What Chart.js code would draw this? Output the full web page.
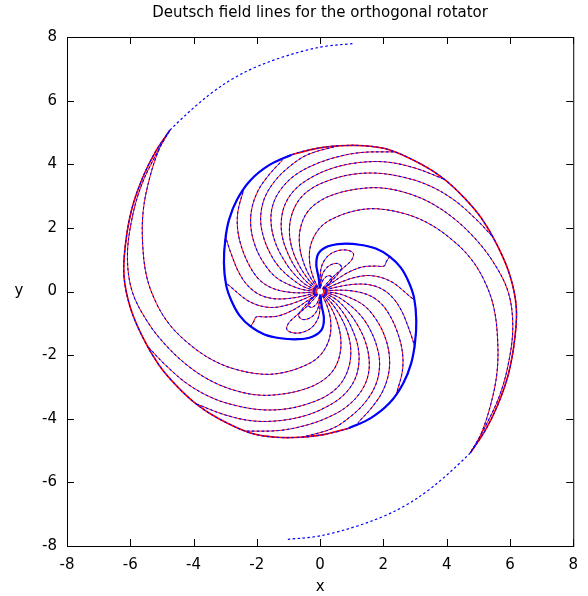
<!DOCTYPE html>
<html>
<head>
<meta charset="utf-8">
<script src="https://cdn.jsdelivr.net/npm/chart.js@4.4.1/dist/chart.umd.min.js"></script>
<style>
  html, body { margin: 0; padding: 0; background: #fff; }
  #wrap { width: 588px; height: 596px; }
</style>
</head>
<body>
<div id="wrap"><canvas id="fieldChart" width="588" height="596"></canvas></div>
<script>
// ========== DATA (data units) ==========
const xTicks = [-8, -6, -4, -2, 0, 2, 4, 6, 8];
const yTicks = [-8, -6, -4, -2, 0, 2, 4, 6, 8];

// separatrix arm A: centre -> over the top -> right side -> bottom -> left -> tip
const armA = [[0,0],[-0.05,0.45],[-0.12,0.85],[-0.05,1.2],[0.25,1.42],[0.7,1.5],[1.25,1.47],[1.76,1.35],[2.2,1.1],[2.55,0.75],[2.8,0.3],[2.97,-0.2],[3.04,-0.9],[3.0,-1.6],[2.88,-2.25],[2.62,-2.9],[2.2,-3.5],[1.6,-3.98],[0.9,-4.3],[0.1,-4.5],[-0.6,-4.58],[-1.4,-4.58],[-2.2,-4.45],[-3.2,-4.0],[-3.9,-3.55],[-4.55,-2.95],[-5.1,-2.3],[-5.6,-1.45],[-6.0,-0.5],[-6.2,0.5],[-6.15,1.5],[-5.95,2.6],[-5.6,3.6],[-5.2,4.4],[-4.75,5.07]];
const armB = [[0,0],[0.05,-0.45],[0.12,-0.85],[0.05,-1.2],[-0.25,-1.42],[-0.7,-1.5],[-1.25,-1.47],[-1.76,-1.35],[-2.2,-1.1],[-2.55,-0.75],[-2.8,-0.3],[-2.97,0.2],[-3.04,0.9],[-3.0,1.6],[-2.88,2.25],[-2.62,2.9],[-2.2,3.5],[-1.6,3.98],[-0.9,4.3],[-0.1,4.5],[0.6,4.58],[1.4,4.58],[2.2,4.45],[3.2,4.0],[3.9,3.55],[4.55,2.95],[5.1,2.3],[5.6,1.45],[6.0,0.5],[6.2,-0.5],[6.15,-1.5],[5.95,-2.6],[5.6,-3.6],[5.2,-4.4],[4.75,-5.07]];
// blue continuation beyond the tips
const tailA = [[-4.75,5.07],[-4.43,5.38],[-3.91,5.85],[-3.39,6.27],[-2.76,6.69],[-2.02,7.06],[-1.18,7.37],[-0.45,7.58],[0.18,7.71],[1.02,7.79]];
const tailB = [[4.75,-5.07],[4.43,-5.38],[3.91,-5.85],[3.39,-6.27],[2.76,-6.69],[2.02,-7.06],[1.18,-7.37],[0.45,-7.58],[-0.18,-7.71],[-1.02,-7.79]];

// open lines leaving the centre to the right, wrapping under and joining arm A
const fanLower = [
  [[0,0],[0.4,0.29],[0.85,0.58],[1.33,0.77],[1.75,0.8],[2.02,0.8],[2.1,0.95],[2.2,1.1]],
  [[0,0],[0.45,0.21],[0.95,0.4],[1.45,0.5],[1.9,0.45],[2.3,0.28],[2.6,0.05],[2.82,-0.14],[2.97,-0.26]],
  [[0,0],[0.48,0.13],[1.0,0.22],[1.5,0.22],[1.95,0.08],[2.3,-0.2],[2.57,-0.6],[2.78,-1.1],[2.92,-1.5],[3.0,-1.78]],
  [[0,0],[0.5,0.04],[1.0,0.02],[1.5,-0.1],[1.9,-0.35],[2.2,-0.75],[2.45,-1.3],[2.6,-1.9],[2.6,-2.5],[2.42,-3.19]],
  [[0,0],[0.5,-0.05],[0.95,-0.2],[1.4,-0.45],[1.75,-0.85],[2.02,-1.35],[2.18,-1.95],[2.17,-2.55],[1.97,-3.15],[1.63,-3.65],[1.2,-4.12]],
  [[0,0],[0.48,-0.13],[0.9,-0.4],[1.28,-0.75],[1.58,-1.2],[1.8,-1.75],[1.88,-2.3],[1.77,-2.9],[1.45,-3.45],[1.0,-3.9],[0.4,-4.3],[-0.56,-4.58]],
  [[0,0],[0.45,-0.21],[0.82,-0.55],[1.15,-1.0],[1.42,-1.55],[1.55,-2.15],[1.5,-2.7],[1.25,-3.2],[0.8,-3.65],[0.2,-3.98],[-0.5,-4.22],[-1.3,-4.37],[-2.33,-4.39]],
  [[0,0],[0.41,-0.29],[0.75,-0.7],[1.02,-1.2],[1.2,-1.75],[1.22,-2.3],[1.08,-2.8],[0.75,-3.25],[0.25,-3.6],[-0.4,-3.88],[-1.2,-4.05],[-2.1,-4.07],[-3.0,-3.88],[-3.92,-3.53]],
  [[0,0],[0.35,-0.35],[0.65,-0.8],[0.87,-1.3],[0.97,-1.85],[0.9,-2.4],[0.65,-2.9],[0.25,-3.25],[-0.3,-3.5],[-1.0,-3.68],[-1.8,-3.72],[-2.6,-3.6],[-3.4,-3.35],[-4.2,-2.9],[-4.9,-2.3],[-5.42,-1.76]],
  [[0,0],[0.29,-0.41],[0.52,-0.9],[0.65,-1.45],[0.62,-2.0],[0.4,-2.5],[0,-2.85],[-0.53,-3.08],[-1.17,-3.22],[-1.88,-3.26],[-2.62,-3.13],[-3.39,-2.84],[-4.12,-2.38],[-4.82,-1.75],[-5.45,-0.96],[-5.94,0],[-6.09,1.07],[-5.97,2.17],[-5.67,3.28],[-5.17,4.34],[-4.75,5.07]],
  [[0,0],[0.2,-0.4],[0.33,-0.9],[0.3,-1.45],[0.05,-1.95],[-0.34,-2.26],[-1.08,-2.53],[-1.81,-2.6],[-2.76,-2.42],[-3.5,-2.1],[-4.2,-1.6],[-4.75,-1.05],[-5.17,-0.38],[-5.48,0.46],[-5.61,1.51],[-5.59,2.55],[-5.38,3.6],[-5.06,4.54],[-4.75,5.07]]
];
// open lines leaving the centre to the left, wrapping over the top and joining arm B
const fanUpper = [
  [[0,0],[-0.4,-0.29],[-0.85,-0.58],[-1.33,-0.77],[-1.75,-0.8],[-2.02,-0.8],[-2.1,-0.95],[-2.2,-1.1]],
  [[0,0],[-0.45,-0.21],[-0.95,-0.4],[-1.45,-0.5],[-1.9,-0.45],[-2.3,-0.28],[-2.6,-0.05],[-2.82,0.14],[-2.97,0.26]],
  [[0,0],[-0.48,-0.13],[-1.0,-0.22],[-1.5,-0.22],[-1.95,-0.08],[-2.3,0.2],[-2.57,0.6],[-2.78,1.1],[-2.92,1.5],[-3.0,1.78]],
  [[0,0],[-0.5,-0.04],[-1.0,-0.02],[-1.5,0.1],[-1.9,0.35],[-2.2,0.75],[-2.45,1.3],[-2.6,1.9],[-2.6,2.5],[-2.42,3.19]],
  [[0,0],[-0.5,0.05],[-0.95,0.2],[-1.4,0.45],[-1.75,0.85],[-2.02,1.35],[-2.18,1.95],[-2.17,2.55],[-1.97,3.15],[-1.63,3.65],[-1.2,4.12]],
  [[0,0],[-0.48,0.13],[-0.9,0.4],[-1.28,0.75],[-1.58,1.2],[-1.8,1.75],[-1.88,2.3],[-1.77,2.9],[-1.45,3.45],[-1.0,3.9],[-0.4,4.3],[0.56,4.58]],
  [[0,0],[-0.45,0.21],[-0.82,0.55],[-1.15,1.0],[-1.42,1.55],[-1.55,2.15],[-1.5,2.7],[-1.25,3.2],[-0.8,3.65],[-0.2,3.98],[0.5,4.22],[1.3,4.37],[2.33,4.39]],
  [[0,0],[-0.41,0.29],[-0.75,0.7],[-1.02,1.2],[-1.2,1.75],[-1.22,2.3],[-1.08,2.8],[-0.75,3.25],[-0.25,3.6],[0.4,3.88],[1.2,4.05],[2.1,4.07],[3.0,3.88],[3.92,3.53]],
  [[0,0],[-0.35,0.35],[-0.65,0.8],[-0.87,1.3],[-0.97,1.85],[-0.9,2.4],[-0.65,2.9],[-0.25,3.25],[0.3,3.5],[1.0,3.68],[1.8,3.72],[2.6,3.6],[3.4,3.35],[4.2,2.9],[4.9,2.3],[5.42,1.76]],
  [[0,0],[-0.29,0.41],[-0.52,0.9],[-0.65,1.45],[-0.62,2.0],[-0.4,2.5],[0,2.85],[0.53,3.08],[1.17,3.22],[1.88,3.26],[2.62,3.13],[3.39,2.84],[4.12,2.38],[4.82,1.75],[5.45,0.96],[5.94,0],[6.09,-1.07],[5.97,-2.17],[5.67,-3.28],[5.17,-4.34],[4.75,-5.07]],
  [[0,0],[-0.2,0.4],[-0.33,0.9],[-0.3,1.45],[-0.05,1.95],[0.34,2.26],[1.08,2.53],[1.81,2.6],[2.76,2.42],[3.5,2.1],[4.2,1.6],[4.75,1.05],[5.17,0.38],[5.48,-0.46],[5.61,-1.51],[5.59,-2.55],[5.38,-3.6],[5.06,-4.54],[4.75,-5.07]]
];
// closed dipole loops near the star
const loopsUp = [
  [[0,0],[0,0.4],[0.05,0.8],[0.25,1.12],[0.55,1.28],[0.85,1.3],[1.05,1.2],[1.0,1.0],[0.78,0.78],[0.45,0.5],[0.18,0.22],[0,0]],
  [[0,0],[0.02,0.3],[0.1,0.6],[0.3,0.82],[0.55,0.88],[0.68,0.75],[0.52,0.5],[0.25,0.22],[0,0]],
  [[0,0],[0.03,0.2],[0.12,0.4],[0.28,0.5],[0.38,0.42],[0.25,0.2],[0,0]]
];
const loopsDown = [
  [[0,0],[0,-0.4],[-0.05,-0.8],[-0.25,-1.12],[-0.55,-1.28],[-0.85,-1.3],[-1.05,-1.2],[-1.0,-1.0],[-0.78,-0.78],[-0.45,-0.5],[-0.18,-0.22],[0,0]],
  [[0,0],[-0.02,-0.3],[-0.1,-0.6],[-0.3,-0.82],[-0.55,-0.88],[-0.68,-0.75],[-0.52,-0.5],[-0.25,-0.22],[0,0]],
  [[0,0],[-0.03,-0.2],[-0.12,-0.4],[-0.28,-0.5],[-0.38,-0.42],[-0.25,-0.2],[0,0]]
];

// ========== DATASETS ==========
const RED = '#ff0000';
const BLUE = '#0000ff';
const FONT = '"DejaVu Sans", Verdana, sans-serif';

function lineSet(pts, color, width, dash) {
    return {
        data: pts.map(p => ({ x: p[0], y: p[1] })),
        borderColor: color,
        borderWidth: width,
        borderDash: dash || [],
        pointRadius: 0,
        showLine: true,
        fill: false,
        tension: 0.35
    };
}

const allLines = [armA, armB].concat(fanLower, fanUpper, loopsUp, loopsDown);
const datasets = [];

// first dataset is drawn on top
datasets.push({ data: [{ x: 0, y: 0 }], pointRadius: 3, backgroundColor: '#fff', borderWidth: 0, showLine: false });
datasets.push(lineSet(armA.slice(0, 19), BLUE, 2.2));
datasets.push(lineSet(armB.slice(0, 19), BLUE, 2.2));
datasets.push(lineSet(tailA, BLUE, 1.2, [2.5, 2.5]));
datasets.push(lineSet(tailB, BLUE, 1.2, [2.5, 2.5]));
allLines.forEach(l => datasets.push(lineSet(l, BLUE, 1.1, [2.5, 2.5])));
allLines.forEach(l => datasets.push(lineSet(l, RED, 1)));
datasets.push(lineSet(armA.slice(18), RED, 1.6));
datasets.push(lineSet(armB.slice(18), RED, 1.6));

// ========== FRAME / TICKS / LABELS ==========
const frame = {
    id: 'frame',
    afterDraw(chart) {
        const { ctx, chartArea: a, scales } = chart;
        ctx.save();
        ctx.strokeStyle = '#000';
        ctx.lineWidth = 1;
        ctx.strokeRect(a.left + 0.5, a.top + 0.5, a.right - a.left, a.bottom - a.top);
        ctx.beginPath();
        xTicks.forEach(v => {
            const px = Math.round(scales.x.getPixelForValue(v)) + 0.5;
            ctx.moveTo(px, a.bottom); ctx.lineTo(px, a.bottom - 7);
            ctx.moveTo(px, a.top); ctx.lineTo(px, a.top + 7);
        });
        yTicks.forEach(v => {
            const py = Math.round(scales.y.getPixelForValue(v)) + 0.5;
            ctx.moveTo(a.left, py); ctx.lineTo(a.left + 7, py);
            ctx.moveTo(a.right, py); ctx.lineTo(a.right - 7, py);
        });
        ctx.stroke();
        ctx.fillStyle = '#000';
        ctx.font = '15px ' + FONT;
        ctx.textAlign = 'center';
        ctx.textBaseline = 'middle';
        ctx.fillText('Deutsch field lines for the orthogonal rotator', (a.left + a.right) / 2, 13);
        ctx.fillText('x', (a.left + a.right) / 2, 587);
        ctx.fillText('y', 19, (a.top + a.bottom) / 2);
        ctx.restore();
    }
};

new Chart(document.getElementById('fieldChart'), {
    type: 'scatter',
    data: { datasets: datasets },
    options: {
        responsive: false,
        animation: false,
        layout: { padding: { left: 0, right: 13, top: 37, bottom: 0 } },
        plugins: { legend: { display: false }, tooltip: { enabled: false } },
        scales: {
            x: {
                type: 'linear', min: -8, max: 8,
                grid: { display: false, drawTicks: false },
                border: { display: false },
                ticks: { stepSize: 2, padding: 10, color: '#000', font: { family: FONT, size: 15 }, maxRotation: 0 },
                afterFit(s) { s.height = 50; }
            },
            y: {
                type: 'linear', min: -8, max: 8,
                grid: { display: false, drawTicks: false },
                border: { display: false },
                ticks: { stepSize: 2, padding: 10, color: '#000', font: { family: FONT, size: 15 } },
                afterFit(s) { s.width = 67; }
            }
        }
    },
    plugins: [frame]
});
</script>
</body>
</html>
